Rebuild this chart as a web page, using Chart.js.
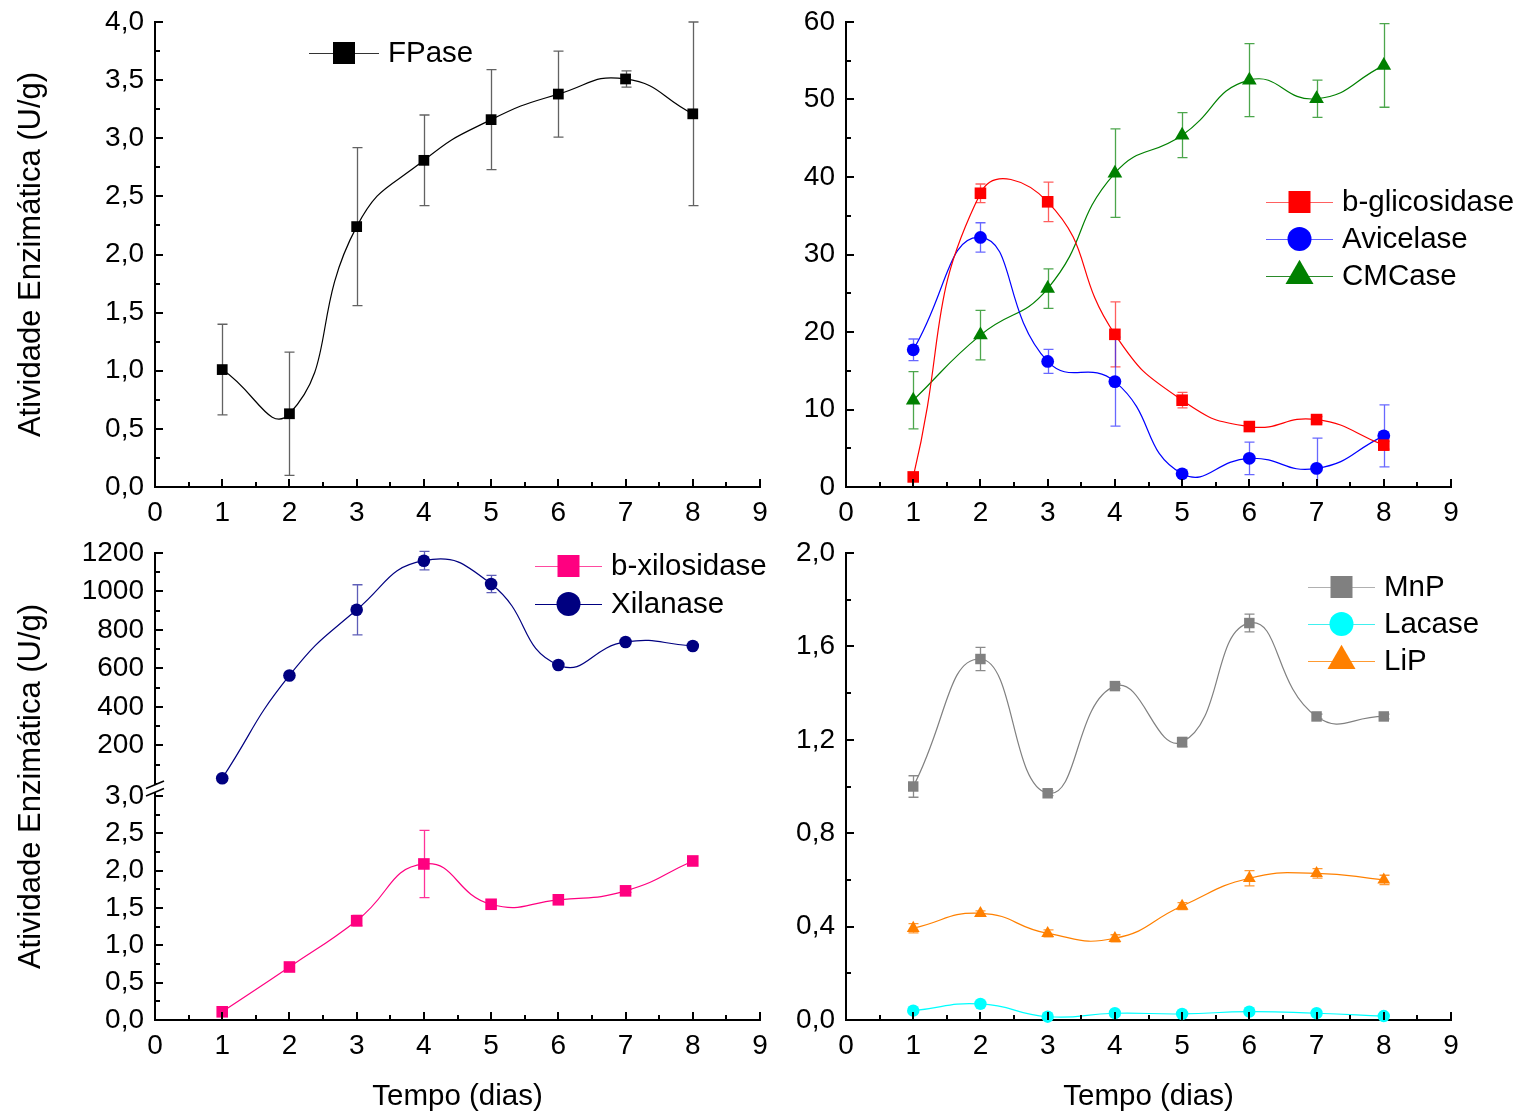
<!DOCTYPE html>
<html>
<head>
<meta charset="utf-8">
<title>Atividade enzimática ao longo do tempo</title>
<script src="https://cdn.jsdelivr.net/npm/chart.js@4.4.1/dist/chart.umd.min.js"></script>
<style>
  html, body { margin: 0; padding: 0; background: #fff; }
  #wrap { position: relative; width: 1526px; height: 1116px; overflow: hidden; background: #fff; }
  #wrap canvas { position: absolute; }
</style>
</head>
<body>
<div id="wrap">
  <canvas id="cTL" width="790" height="540" style="left:0;top:0"></canvas>
  <canvas id="cTR" width="736" height="540" style="left:790px;top:0"></canvas>
  <canvas id="cBL" width="790" height="576" style="left:0;top:540px"></canvas>
  <canvas id="cBR" width="736" height="576" style="left:790px;top:540px"></canvas>
</div>
<script>
// ---- data (U/g per day) ----
const days = [1, 2, 3, 4, 5, 6, 7, 8];
const dayTicks = [0, 1, 2, 3, 4, 5, 6, 7, 8, 9];

// cellulases
const fpase     = [1.01, 0.63, 2.24, 2.81, 3.16, 3.38, 3.51, 3.21];
const fpaseErr  = [0.39, 0.53, 0.68, 0.39, 0.43, 0.37, 0.07, 0.79];
const bGlic     = [1.3, 37.9, 36.8, 19.7, 11.2, 7.8, 8.7, 5.4];
const bGlicErr  = [0.3, 1.2, 2.55, 4.2, 1.0, 0.4, 0.4, 0.5];
const avicel    = [17.7, 32.2, 16.2, 13.6, 1.7, 3.7, 2.4, 6.6];
const avicelErr = [1.4, 1.9, 1.55, 5.75, 0.3, 2.1, 3.9, 4.0];
const cmcase    = [11.2, 19.6, 25.6, 40.5, 45.4, 52.5, 50.1, 54.4];
const cmcaseErr = [3.7, 3.2, 2.55, 5.7, 2.9, 4.7, 2.4, 5.4];

// hemicellulases
const xilanase    = [30, 564, 905, 1160, 1039, 618, 738, 717];
const xilanaseErr = [0, 0, 130, 48, 45, 8, 0, 0];
const bXilo       = [0.11, 0.71, 1.33, 2.09, 1.55, 1.61, 1.73, 2.13];
const bXiloErr    = [0, 0, 0.07, 0.45, 0.03, 0.03, 0.02, 0];

// ligninolytic enzymes
const mnp     = [1.00, 1.546, 0.971, 1.43, 1.19, 1.70, 1.30, 1.30];
const mnpErr  = [0.046, 0.05, 0.01, 0.01, 0.02, 0.038, 0.01, 0.01];
const lacase  = [0.040, 0.069, 0.014, 0.029, 0.026, 0.036, 0.029, 0.017];
const lip     = [0.393, 0.457, 0.371, 0.350, 0.488, 0.607, 0.628, 0.600];
const lipErr  = [0.02, 0.01, 0.015, 0.015, 0.015, 0.033, 0.02, 0.02];

// axis tick values
const fpaseTicks   = [0, 0.5, 1, 1.5, 2, 2.5, 3, 3.5, 4];
const celTicks     = [0, 10, 20, 30, 40, 50, 60];
const xilTicks     = [0, 200, 400, 600, 800, 1000, 1200];
const xiloTicks    = [0, 0.5, 1, 1.5, 2, 2.5, 3];
const ligninTicks  = [0, 0.4, 0.8, 1.2, 1.6, 2.0];

const yTitle = 'Atividade Enzimática (U/g)';
const xTitle = 'Tempo (dias)';

// ---- styling helpers ----
const FONT = "'Liberation Sans', Arial, Helvetica, sans-serif";
const TICK_FONT = { family: FONT, size: 28 };
const Y_TITLE_FONT = { family: FONT, size: 31 };
const X_TITLE_FONT = { family: FONT, size: 29.5 };
const KEY_FONT = { family: FONT, size: 29.5 };
const comma1 = v => Number(v).toFixed(1).replace('.', ',');

function pts(vals) {
  return days.map((d, i) => ({ x: d, y: vals[i] }));
}

function series(label, vals, errs, color, style, radius, errColor, keyLine) {
  return {
    label,
    data: pts(vals),
    errors: errs,
    errColor: errColor || color,
    keyLine: keyLine || color,
    borderColor: color,
    backgroundColor: color,
    borderWidth: 1.2,
    pointStyle: style,
    pointRadius: radius,
    pointBorderWidth: 0,
    pointBackgroundColor: color,
    tension: 0.5,
    fill: false,
    clip: false
  };
}

function xScale(height, withTitle) {
  return {
    type: 'linear', position: 'bottom', min: 0, max: 9,
    afterBuildTicks: s => { s.ticks = dayTicks.map(v => ({ value: v })); },
    afterFit: s => { s.height = height; s.paddingLeft = 0; s.paddingRight = 0; },
    grid: { display: false, drawTicks: false },
    border: { display: true, color: '#000', width: 2 },
    ticks: { color: '#000', font: TICK_FONT, padding: 9, maxRotation: 0, autoSkip: false,
             callback: v => String(v) },
    title: withTitle
      ? { display: true, text: xTitle, color: '#000', font: X_TITLE_FONT, padding: { top: 0, bottom: 1 } }
      : { display: false }
  };
}

function yScale(min, max, tickVals, fmt, width, extra) {
  return Object.assign({
    type: 'linear', position: 'left', min, max,
    afterBuildTicks: s => { s.ticks = tickVals.map(v => ({ value: v })); },
    afterFit: s => { s.width = width; s.paddingTop = 0; s.paddingBottom = 0; },
    grid: { display: false, drawTicks: false },
    border: { display: true, color: '#000', width: 2 },
    ticks: { color: '#000', font: TICK_FONT, padding: 11, autoSkip: false, callback: fmt },
    title: { display: false }
  }, extra || {});
}

// ---- plugins ----
// inward major/minor tick marks on every axis
const innerTicks = {
  id: 'innerTicks',
  afterDraw(chart) {
    const ctx = chart.ctx;
    ctx.save();
    ctx.strokeStyle = '#000';
    ctx.lineWidth = 2;
    Object.values(chart.scales).forEach(scale => {
      const vals = scale.ticks.map(t => t.value);
      const marks = [];
      vals.forEach((v, i) => {
        marks.push([v, 8]);
        if (i < vals.length - 1) marks.push([(v + vals[i + 1]) / 2, 5]);
      });
      marks.forEach(([v, len]) => {
        const p = Math.round(scale.getPixelForValue(v));
        ctx.beginPath();
        if (scale.isHorizontal()) {
          ctx.moveTo(p, scale.top);
          ctx.lineTo(p, scale.top - len);
        } else {
          ctx.moveTo(scale.right, p);
          ctx.lineTo(scale.right + len, p);
        }
        ctx.stroke();
      });
    });
    ctx.restore();
  }
};

// vertical error bars with caps
const errorBars = {
  id: 'errorBars',
  beforeDatasetsDraw(chart) {
    const ctx = chart.ctx;
    const a = chart.chartArea;
    ctx.save();
    ctx.beginPath();
    ctx.rect(a.left - 20, a.top - 12, a.right - a.left + 40, a.bottom - a.top + 12);
    ctx.clip();
    chart.data.datasets.forEach((ds, i) => {
      if (!ds.errors) return;
      const meta = chart.getDatasetMeta(i);
      const xs = chart.scales[meta.xAxisID];
      const ys = chart.scales[meta.yAxisID];
      ctx.strokeStyle = ds.errColor;
      ctx.lineWidth = 1.3;
      ds.data.forEach((p, j) => {
        const e = ds.errors[j];
        if (!e) return;
        const x = Math.round(xs.getPixelForValue(p.x)) + 0.5;
        const yHi = ys.getPixelForValue(p.y + e);
        const yLo = ys.getPixelForValue(p.y - e);
        ctx.beginPath();
        ctx.moveTo(x, yHi); ctx.lineTo(x, yLo);
        ctx.moveTo(x - 5, yHi); ctx.lineTo(x + 5, yHi);
        ctx.moveTo(x - 5, yLo); ctx.lineTo(x + 5, yLo);
        ctx.stroke();
      });
    });
    ctx.restore();
  }
};

function keyMarker(ctx, style, x, y, size) {
  ctx.beginPath();
  if (style === 'rect') {
    ctx.rect(x - size / 2, y - size / 2, size, size);
  } else if (style === 'circle') {
    ctx.arc(x, y, size / 2, 0, Math.PI * 2);
  } else {
    const h = size * 0.866;
    ctx.moveTo(x, y - h * 2 / 3);
    ctx.lineTo(x + size / 2, y + h / 3);
    ctx.lineTo(x - size / 2, y + h / 3);
    ctx.closePath();
  }
  ctx.fill();
}

// series key: line + symbol + name, one row per dataset
const seriesKey = {
  id: 'seriesKey',
  afterDraw(chart, args, o) {
    if (!o || o.x === undefined) return;
    const ctx = chart.ctx;
    ctx.save();
    chart.data.datasets.forEach((ds, i) => {
      const y = o.y + i * o.gap;
      ctx.strokeStyle = ds.keyLine;
      ctx.lineWidth = 1.2;
      ctx.beginPath();
      ctx.moveTo(o.x, y + 0.5);
      ctx.lineTo(o.x + o.len, y + 0.5);
      ctx.stroke();
      ctx.fillStyle = ds.backgroundColor;
      const size = ds.pointStyle === 'rect' ? 22 : ds.pointStyle === 'circle' ? 24 : 28;
      keyMarker(ctx, ds.pointStyle, o.x + o.len / 2, y, size);
      ctx.fillStyle = '#000';
      ctx.font = `${KEY_FONT.size}px ${KEY_FONT.family}`;
      ctx.textAlign = 'left';
      ctx.textBaseline = 'middle';
      ctx.fillText(ds.label, o.textX, y + 1);
    });
    ctx.restore();
  }
};

// one y title spanning both halves of a split axis
const sideTitle = {
  id: 'sideTitle',
  afterDraw(chart, args, o) {
    if (!o || !o.text) return;
    const ctx = chart.ctx;
    const a = chart.chartArea;
    ctx.save();
    ctx.translate(o.x, (a.top + a.bottom) / 2);
    ctx.rotate(-Math.PI / 2);
    ctx.fillStyle = '#000';
    ctx.font = `${Y_TITLE_FONT.size}px ${Y_TITLE_FONT.family}`;
    ctx.textAlign = 'center';
    ctx.textBaseline = 'middle';
    ctx.fillText(o.text, 0, 0);
    ctx.restore();
  }
};

// "//" break mark where the two y ranges meet
const axisBreak = {
  id: 'axisBreak',
  afterDraw(chart, args, o) {
    if (!o || !o.scale) return;
    const ctx = chart.ctx;
    const s = chart.scales[o.scale];
    const x = s.right;
    const y = s.bottom;
    const dx = 9, slope = 0.42, gap = 7.5;
    ctx.save();
    ctx.fillStyle = '#fff';
    ctx.beginPath();
    ctx.moveTo(x - dx, y - 0.5 + dx * slope - gap / 2);
    ctx.lineTo(x + dx, y - 0.5 - dx * slope - gap / 2);
    ctx.lineTo(x + dx, y - 0.5 - dx * slope + gap / 2);
    ctx.lineTo(x - dx, y - 0.5 + dx * slope + gap / 2);
    ctx.closePath();
    ctx.fill();
    ctx.strokeStyle = '#000';
    ctx.lineWidth = 1.6;
    [-gap / 2, gap / 2].forEach(off => {
      ctx.beginPath();
      ctx.moveTo(x - dx, y - 0.5 + dx * slope + off);
      ctx.lineTo(x + dx, y - 0.5 - dx * slope + off);
      ctx.stroke();
    });
    ctx.restore();
  }
};

const allPlugins = [errorBars, innerTicks, seriesKey, sideTitle, axisBreak];

function baseOptions(padding, scales, pluginOpts) {
  return {
    responsive: false,
    animation: false,
    events: [],
    layout: { padding },
    scales,
    plugins: Object.assign({ legend: { display: false }, tooltip: { enabled: false } }, pluginOpts)
  };
}

// ---- FPase ----
new Chart(document.getElementById('cTL'), {
  type: 'line',
  data: { datasets: [
    series('FPase', fpase, fpaseErr, '#000000', 'rect', 7.6, 'rgba(70,70,70,0.85)', '#333')
  ] },
  options: baseOptions({ top: 22, right: 30, left: 0, bottom: 0 }, {
    x: xScale(53, false),
    y: yScale(0, 4, fpaseTicks, comma1, 155, {
      title: { display: true, text: yTitle, color: '#000', font: Y_TITLE_FONT, padding: { top: 13, bottom: 0 } }
    })
  }, {
    seriesKey: { x: 309, y: 53, gap: 37, len: 70, textX: 388 }
  }),
  plugins: allPlugins
});

// ---- cellulases ----
new Chart(document.getElementById('cTR'), {
  type: 'line',
  data: { datasets: [
    series('b-glicosidase', bGlic, bGlicErr, '#ff0000', 'rect', 8.2, 'rgba(255,40,40,0.75)', '#ff6060'),
    series('Avicelase', avicel, avicelErr, '#0000ff', 'circle', 6.4, 'rgba(40,40,255,0.7)', '#6060ff'),
    series('CMCase', cmcase, cmcaseErr, '#008000', 'triangle', 8.5, 'rgba(0,128,0,0.7)', '#2a8a2a')
  ] },
  options: baseOptions({ top: 22, right: 75, left: 0, bottom: 0 }, {
    x: xScale(53, false),
    y: yScale(0, 60, celTicks, v => String(v), 56)
  }, {
    seriesKey: { x: 476, y: 202, gap: 37, len: 67, textX: 552 }
  }),
  plugins: allPlugins
});

// ---- hemicellulases: split y axis (lower range listed first, it stacks at the bottom) ----
const xilSet = series('Xilanase', xilanase, xilanaseErr, '#000080', 'circle', 6.3, 'rgba(40,40,160,0.75)');
xilSet.yAxisID = 'yTop';
const xiloSet = series('b-xilosidase', bXilo, bXiloErr, '#ff0080', 'rect', 8.2, 'rgba(255,0,128,0.8)', '#ff4aa0');
xiloSet.yAxisID = 'yBot';

new Chart(document.getElementById('cBL'), {
  type: 'line',
  data: { datasets: [xiloSet, xilSet] },
  options: baseOptions({ top: 13, right: 30, left: 0, bottom: 0 }, {
    x: xScale(96, true),
    yBot: yScale(0, 3.094, xiloTicks, comma1, 155,
                 { stack: 'split', stackWeight: 231 }),
    yTop: yScale(-26, 1200, xilTicks, v => (v === 0 ? '' : String(v)), 155,
                 { stack: 'split', stackWeight: 236 })
  }, {
    seriesKey: { x: 535, y: 26, gap: 38, len: 67, textX: 611 },
    sideTitle: { text: yTitle, x: 31.5 },
    axisBreak: { scale: 'yTop' }
  }),
  plugins: allPlugins
});

// ---- ligninolytic enzymes ----
new Chart(document.getElementById('cBR'), {
  type: 'line',
  data: { datasets: [
    series('MnP', mnp, mnpErr, '#808080', 'rect', 7.4, 'rgba(110,110,110,0.8)', '#b0b0b0'),
    series('Lacase', lacase, null, '#00ffff', 'circle', 6.2, null, '#40f0f0'),
    series('LiP', lip, lipErr, '#ff8000', 'triangle', 7.4, 'rgba(255,128,0,0.8)', '#ff9a30')
  ] },
  options: baseOptions({ top: 13, right: 75, left: 0, bottom: 0 }, {
    x: xScale(96, true),
    y: yScale(0, 2, ligninTicks, comma1, 56)
  }, {
    seriesKey: { x: 518, y: 47, gap: 37, len: 67, textX: 594 }
  }),
  plugins: allPlugins
});
</script>
</body>
</html>
